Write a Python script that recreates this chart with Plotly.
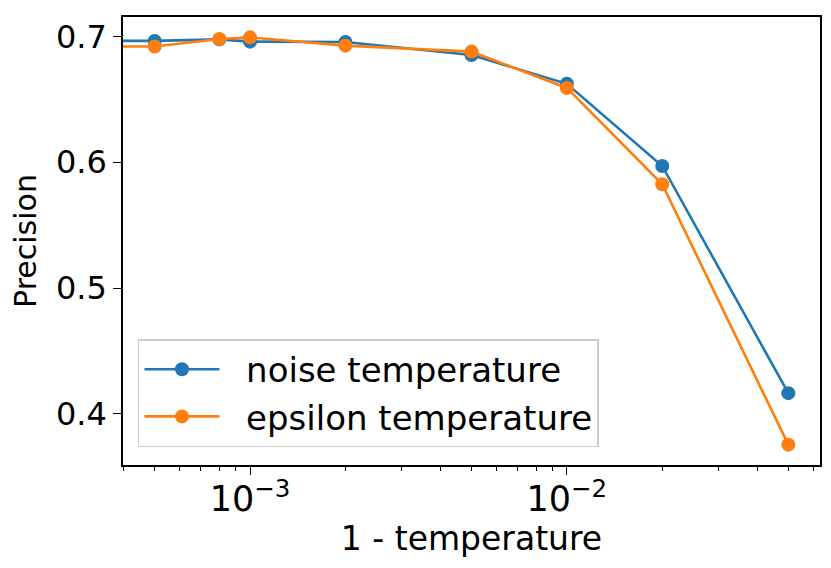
import math
import plotly.graph_objects as go

# 1 - temperature (0 means temperature = 1; clipped on log scale like matplotlib)
x_values = [0, 5e-4, 8e-4, 1e-3, 2e-3, 5e-3, 1e-2, 2e-2, 5e-2]
noise_precision = [0.6958, 0.6964, 0.6976, 0.6958, 0.6955, 0.6852, 0.6623, 0.597, 0.4165]
epsilon_precision = [0.6921, 0.6919, 0.6979, 0.6992, 0.6926, 0.6879, 0.659, 0.5825, 0.3756]
series_names = ["noise temperature", "epsilon temperature"]
y_tick_values = [0.4, 0.5, 0.6, 0.7]

x_plot = [v if v > 0 else 1e-9 for v in x_values]

pos = [v for v in x_values if v > 0]
lmin, lmax = math.log10(min(pos)), math.log10(max(pos))
xm = 0.05 * (lmax - lmin)
allv = noise_precision + epsilon_precision
ymin, ymax = min(allv), max(allv)
ym = 0.05 * (ymax - ymin)

font = "DejaVu Sans"
fig = go.Figure()
for name, vals, color in zip(series_names, [noise_precision, epsilon_precision], ["#1f77b4", "#ff7f0e"]):
    fig.add_trace(go.Scatter(
        x=x_plot, y=vals, name="\u00a0\u00a0" + name, mode="lines+markers",
        line=dict(color=color, width=2.6),
        marker=dict(color=color, size=14),
    ))

fig.update_layout(
    width=823, height=560,
    margin=dict(l=115, r=11, t=7, b=103),
    paper_bgcolor="white", plot_bgcolor="white",
    font=dict(family=font, size=30, color="black"),
    showlegend=True,
    legend=dict(
        x=0.0215, y=0.04, xanchor="left", yanchor="bottom",
        bgcolor="rgba(255,255,255,0.8)", bordercolor="#cccccc", borderwidth=1.5,
        font=dict(family=font, size=34, color="black"),
        itemwidth=75, tracegroupgap=0,
    ),
)
fig.update_xaxes(
    type="log", range=[lmin - xm, lmax + xm],
    showline=True, linecolor="black", linewidth=1.6, mirror=True,
    showgrid=False, zeroline=False,
    ticks="outside", ticklen=8, tickwidth=1.4, tickcolor="black",
    dtick=1, exponentformat="power", ticklabelstandoff=-4,
    minor=dict(ticks="outside", ticklen=4.5, tickwidth=1, tickcolor="black", showgrid=False),
    tickfont=dict(family=font, size=28),
    title=dict(text="1 - temperature", font=dict(family=font, size=33), standoff=0),
)
fig.update_yaxes(
    range=[ymin - ym, ymax + ym],
    showline=True, linecolor="black", linewidth=1.6, mirror=True,
    showgrid=False, zeroline=False,
    ticks="outside", ticklen=8, tickwidth=1.4, tickcolor="black",
    tickvals=y_tick_values, tickformat=".1f",
    tickfont=dict(family=font, size=32),
    title=dict(text="Precision", font=dict(family=font, size=30), standoff=10),
)
fig.write_html("out.html")
